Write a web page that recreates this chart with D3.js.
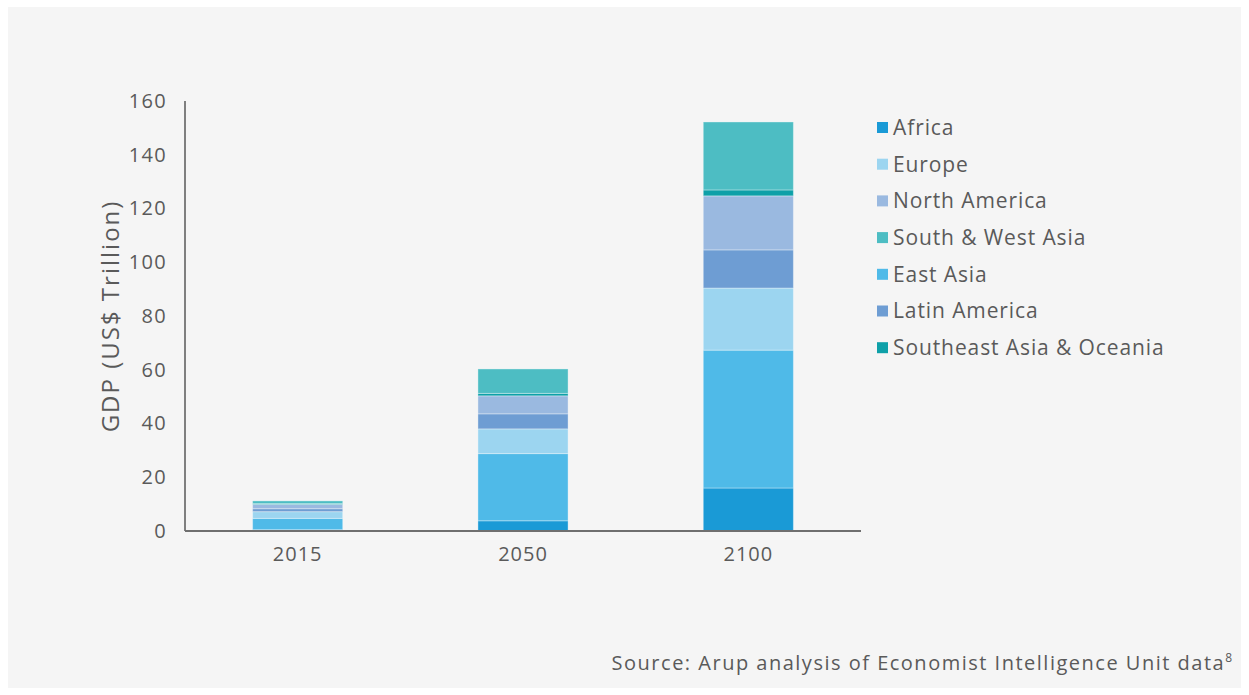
<!DOCTYPE html>
<html>
<head>
<meta charset="utf-8">
<script src="https://cdn.jsdelivr.net/npm/d3@7"></script>
<style>
  html, body { margin: 0; padding: 0; background: #ffffff; }
  svg { display: block; font-family: "Open Sans", "Noto Sans", sans-serif; }
  svg text { font-family: "Open Sans", "Noto Sans", sans-serif; }
</style>
</head>
<body>
<svg id="chart" width="1249" height="695"></svg>
<script>
const years = ["2015", "2050", "2100"];
// stack order bottom -> top
const regions = ["Africa", "East Asia", "Europe", "Latin America", "North America", "Southeast Asia & Oceania", "South & West Asia"];
const africa        = [0.5, 3.8, 16.0];
const eastAsia      = [4.2, 25.0, 51.3];
const europe        = [2.5, 9.2, 23.1];
const latinAmerica  = [1.1, 5.6, 14.2];
const northAmerica  = [1.6, 6.7, 20.1];
const seAsiaOceania = [0.3, 0.9, 2.2];
const southWestAsia = [1.0, 9.1, 25.3];
const yTicks = [0, 20, 40, 60, 80, 100, 120, 140, 160];
const legendOrder = ["Africa", "Europe", "North America", "South & West Asia", "East Asia", "Latin America", "Southeast Asia & Oceania"];
const colors = {
  "Africa": "#1a9ad6",
  "East Asia": "#4fbae8",
  "Europe": "#9cd5f0",
  "Latin America": "#6e9dd3",
  "North America": "#9ab9e0",
  "Southeast Asia & Oceania": "#0ea0a8",
  "South & West Asia": "#4dbdc3"
};

const seriesValues = {
  "Africa": africa, "East Asia": eastAsia, "Europe": europe, "Latin America": latinAmerica,
  "North America": northAmerica, "Southeast Asia & Oceania": seAsiaOceania, "South & West Asia": southWestAsia
};
const table = years.map((yr, i) => {
  const row = { year: yr };
  regions.forEach(r => row[r] = seriesValues[r][i]);
  return row;
});

const svg = d3.select("#chart");
const textColor = "#5a5a5a";

svg.append("rect").attr("x", 8).attr("y", 7).attr("width", 1233).attr("height", 681).attr("fill", "#f5f5f5");

const mLeft = 185, mRight = 861, mTop = 101, mBottom = 531;
const x = d3.scaleBand().domain(years).range([mLeft, mRight]).paddingInner(0.6).paddingOuter(0.3);
const y = d3.scaleLinear().domain([0, 160]).range([mBottom, mTop]);

const stacked = d3.stack().keys(regions)(table);

svg.append("g").selectAll("g").data(stacked).join("g")
  .attr("fill", d => colors[d.key])
  .selectAll("rect").data(d => d).join("rect")
  .attr("x", d => x(d.data.year))
  .attr("width", x.bandwidth())
  .attr("y", d => y(d[1]))
  .attr("height", d => y(d[0]) - y(d[1]))
  .attr("stroke", "rgba(255,255,255,0.35)")
  .attr("stroke-width", 1);

// axes
const yAxis = svg.append("g").attr("transform", `translate(${mLeft},0)`)
  .call(d3.axisLeft(y).tickValues(yTicks).tickSize(0).tickPadding(18));
yAxis.attr("font-family", null);
yAxis.select(".domain").attr("stroke", "#7f7f7f").attr("stroke-width", 2).attr("d", `M0,${mTop}V${mBottom}`);
yAxis.selectAll("text").attr("fill", textColor).attr("font-size", 20).attr("letter-spacing", 1.3);

const xAxis = svg.append("g").attr("transform", `translate(0,${mBottom})`)
  .call(d3.axisBottom(x).tickSize(0).tickPadding(16));
xAxis.attr("font-family", null);
xAxis.select(".domain").attr("stroke", "#6f6f6f").attr("stroke-width", 2).attr("d", `M${mLeft},0H${mRight}`);
xAxis.selectAll("text").attr("fill", textColor).attr("font-size", 20).attr("letter-spacing", 1);

// y title
svg.append("text")
  .attr("transform", `translate(119,${(mTop + mBottom) / 2}) rotate(-90)`)
  .attr("text-anchor", "middle")
  .attr("fill", textColor)
  .attr("font-size", 24)
  .attr("letter-spacing", 2)
  .text("GDP (US$ Trillion)");

// legend
const lg = svg.append("g").attr("transform", "translate(877,122)");
const items = lg.selectAll("g").data(legendOrder).join("g")
  .attr("transform", (d, i) => `translate(0,${i * 36.7})`);
items.append("rect").attr("width", 11).attr("height", 11).attr("fill", d => colors[d]);
items.append("text").attr("x", 16).attr("y", 5.5).attr("dy", "0.35em")
  .attr("fill", textColor).attr("font-size", 21).attr("letter-spacing", 0.9).text(d => d);

// source
const src = svg.append("text").attr("x", 1232).attr("y", 670).attr("text-anchor", "end")
  .attr("fill", textColor).attr("font-size", 20).attr("letter-spacing", 1.5);
src.append("tspan").text("Source: Arup analysis of Economist Intelligence Unit data");
src.append("tspan").attr("font-size", 12).attr("dy", -8).attr("letter-spacing", 0).text("8");
</script>
</body>
</html>
